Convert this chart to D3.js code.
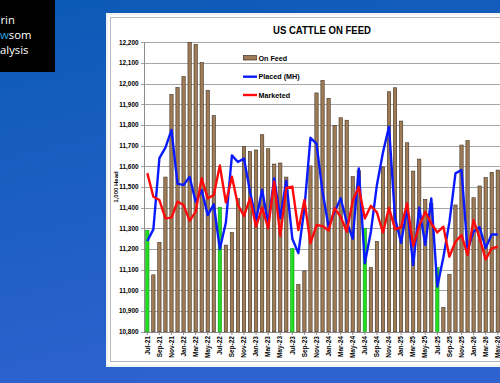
<!DOCTYPE html>
<html><head><meta charset="utf-8">
<script src="https://cdn.jsdelivr.net/npm/d3@7"></script>
<style>html,body{margin:0;padding:0;overflow:hidden;background:#1860c0;}</style>
</head><body>
<script>
const months = ["Jul-21","Aug-21","Sep-21","Oct-21","Nov-21","Dec-21","Jan-22","Feb-22","Mar-22","Apr-22","May-22","Jun-22",
"Jul-22","Aug-22","Sep-22","Oct-22","Nov-22","Dec-22","Jan-23","Feb-23","Mar-23","Apr-23","May-23","Jun-23",
"Jul-23","Aug-23","Sep-23","Oct-23","Nov-23","Dec-23","Jan-24","Feb-24","Mar-24","Apr-24","May-24","Jun-24",
"Jul-24","Aug-24","Sep-24","Oct-24","Nov-24","Dec-24","Jan-25","Feb-25","Mar-25","Apr-25","May-25","Jun-25",
"Jul-25","Aug-25","Sep-25","Oct-25","Nov-25","Dec-25","Jan-26","Feb-26","Mar-26","Apr-26","May-26"];
const onFeed = [11290,11075,11232,11548,11948,11982,12034,12200,12190,12102,11968,11845,
11402,11219,11280,11445,11697,11671,11679,11753,11685,11611,11616,11548,
11202,11029,11094,11602,11955,12015,11929,11797,11835,11823,11550,11580,
11300,11110,11237,11597,11961,11980,11819,11714,11577,11635,11440,11420,
11110,10918,11078,11413,11703,11724,11448,11505,11545,11571,11582];
const placed = [11239,11295,11640,11690,11776,11515,11510,11549,11429,11485,11364,11416,
11200,11328,11653,11621,11638,11477,11340,11487,11320,11542,11350,11530,
11250,11180,11397,11738,11710,11477,11308,11380,11445,11332,11250,11590,
11131,11284,11510,11667,11792,11350,11230,11400,11122,11400,11220,11445,
11018,11160,11330,11566,11582,11195,11285,11305,11205,11270,11270];
const marketed = [11567,11453,11437,11348,11352,11429,11413,11336,11380,11542,11445,11461,
11604,11425,11550,11413,11360,11445,11308,11400,11300,11526,11264,11496,
11502,11292,11437,11227,11316,11311,11290,11397,11356,11284,11433,11500,
11348,11409,11377,11280,11399,11296,11304,11421,11215,11312,11380,11324,
11280,11308,11163,11235,11268,11171,11340,11252,11150,11203,11211];
const yTicks = [10800,10900,11000,11100,11200,11300,11400,11500,11600,11700,11800,11900,12000,12100,12200];
const xTickLabels = months.filter((m,i)=>i%2===0);
const title = "US CATTLE ON FEED";
const yTitle = "1,000 Head";
const legendItems = ["On Feed","Placed (MH)","Marketed"];

const W=500,H=383;
const svg=d3.select("body").append("svg").attr("width",W).attr("height",H).style("display","block");
const defs=svg.append("defs");
const g1=defs.append("linearGradient").attr("id","bg").attr("x1",0).attr("y1",0).attr("x2",0.3).attr("y2",1);
g1.append("stop").attr("offset","0%").attr("stop-color","#0a5ab5");
g1.append("stop").attr("offset","100%").attr("stop-color","#2e62cf");
svg.append("rect").attr("width",W).attr("height",H).attr("fill","url(#bg)");

// logo (only the visible part of the cropped logo)
svg.append("rect").attr("x",0).attr("y",0).attr("width",55).attr("height",72).attr("fill","#000");
const logo=svg.append("g").attr("font-family","'Open Sans',Lato,sans-serif").attr("font-size",11.3).attr("fill","#fff");
logo.append("text").attr("x",0.5).attr("y",24).text("rin");
const t2=logo.append("text").attr("x",0).attr("y",39);
t2.append("tspan").attr("fill","#29a8e0").text("w");
t2.append("tspan").text("som");
logo.append("text").attr("x",0).attr("y",54).text("alysis");

// panel
svg.append("rect").attr("x",106).attr("y",13).attr("width",400).attr("height",354).attr("fill","#f2f2f2");
svg.append("rect").attr("x",108).attr("y",15).attr("width",400).attr("height",350).attr("fill","#fff");
svg.append("rect").attr("x",110.5).attr("y",17.5).attr("width",400).attr("height",344).attr("fill","#fff").attr("stroke","#b8b8b8");

const x=d3.scaleBand().domain(months).range([144.3,144.3+6.042*months.length]).paddingInner(0.45).paddingOuter(0.225);
const y=d3.scaleLinear().domain([10800,12200]).range([331.7,42.3]);
const cx=m=>x(m)+x.bandwidth()/2;

// gridlines
svg.append("g").selectAll("line").data(yTicks).join("line")
 .attr("x1",141).attr("x2",501).attr("y1",d=>Math.round(y(d))+0.5).attr("y2",d=>Math.round(y(d))+0.5)
 .attr("stroke","#a6a6a6").attr("stroke-width",1);
// y labels
svg.append("g").selectAll("text").data(yTicks).join("text")
 .attr("x",138.5).attr("y",d=>y(d)+2.3).attr("text-anchor","end")
 .attr("font-family","'Liberation Sans',Arial,sans-serif").attr("font-weight","bold").attr("font-size",6.4).attr("fill","#000")
 .text(d=>d3.format(",")(d));
// axis line
svg.append("line").attr("x1",144.5).attr("x2",144.5).attr("y1",y(12200)).attr("y2",y(10800)+0.5).attr("stroke","#8c8c8c");
svg.append("line").attr("x1",144).attr("x2",501).attr("y1",332.5).attr("y2",332.5).attr("stroke","#8c8c8c");

// bars
svg.append("g").selectAll("rect").data(months).join("rect")
 .attr("x",m=>x(m)).attr("width",x.bandwidth())
 .attr("y",(m,i)=>y(onFeed[i])).attr("height",(m,i)=>y(10800)-y(onFeed[i]))
 .attr("fill",(m,i)=>m.startsWith("Jul")?"#22dd22":"#a07c56")
 .attr("stroke",(m,i)=>m.startsWith("Jul")?"#119911":"#3c3024").attr("stroke-width",0.6);

// lines
const line=d3.line().x((d,i)=>cx(months[i])).y(d=>y(d));
svg.append("path").datum(placed).attr("d",line).attr("fill","none").attr("stroke","#0a1aff").attr("stroke-width",2.4).attr("stroke-linejoin","round");
svg.append("path").datum(marketed).attr("d",line).attr("fill","none").attr("stroke","#ff0a0a").attr("stroke-width",2.4).attr("stroke-linejoin","round");

// x ticks & labels
svg.append("g").selectAll("line").data(xTickLabels).join("line")
 .attr("x1",m=>cx(m)).attr("x2",m=>cx(m)).attr("y1",332).attr("y2",335).attr("stroke","#8c8c8c");
svg.append("g").selectAll("text").data(xTickLabels).join("text")
 .attr("transform",m=>`translate(${cx(m)+2.2},336) rotate(-90)`).attr("text-anchor","end")
 .attr("font-family","'Liberation Sans',Arial,sans-serif").attr("font-weight","bold").attr("font-size",6.5).attr("fill","#000")
 .text(m=>m);

// y title
svg.append("text").attr("transform","translate(117.5,187) rotate(-90)").attr("text-anchor","middle")
 .attr("font-family","'Liberation Sans',Arial,sans-serif").attr("font-weight","bold").attr("font-size",6).attr("fill","#000").text(yTitle);

// title
svg.append("text").attr("x",273).attr("y",34).attr("textLength",98).attr("lengthAdjust","spacingAndGlyphs")
 .attr("font-family","'Liberation Sans',Arial,sans-serif").attr("font-weight","bold").attr("font-size",11.5).attr("fill","#000").text(title);

// legend
const lg=svg.append("g");
const ly=[58,76.7,95];
lg.append("rect").attr("x",243.5).attr("y",ly[0]-2.5).attr("width",13).attr("height",4.5).attr("fill","#a07c56").attr("stroke","#3c3024").attr("stroke-width",0.7);
lg.append("line").attr("x1",243).attr("x2",257).attr("y1",ly[1]).attr("y2",ly[1]).attr("stroke","#0a1aff").attr("stroke-width",2.4);
lg.append("line").attr("x1",243).attr("x2",257).attr("y1",ly[2]).attr("y2",ly[2]).attr("stroke","#ff0a0a").attr("stroke-width",2.4);
lg.selectAll("text").data(legendItems).join("text").attr("x",258.5).attr("y",(d,i)=>ly[i]+2.6)
 .attr("font-family","'Liberation Sans',Arial,sans-serif").attr("font-weight","bold").attr("font-size",7.2).attr("fill","#000").text(d=>d);
</script>
</body></html>
